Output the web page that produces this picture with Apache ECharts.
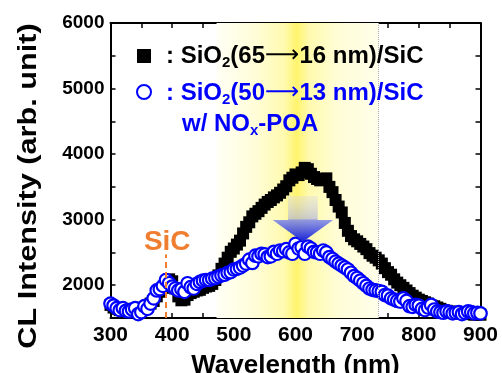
<!DOCTYPE html>
<html><head><meta charset="utf-8">
<script src="https://cdn.jsdelivr.net/npm/echarts@6/dist/echarts.min.js"></script>
<style>html,body{margin:0;padding:0;background:#fff}#c{width:502px;height:373px}</style>
</head><body><div id="c"></div>
<script>
const wavelength = [300,305,310,315,320,325,330,335,340,345,350,355,360,365,370,375,380,385,390,395,
400,405,410,415,420,425,430,435,440,445,450,455,460,465,470,475,480,485,490,495,
500,505,510,515,520,525,530,535,540,545,550,555,560,565,570,575,580,585,590,595,
600,605,610,615,620,625,630,635,640,645,650,655,660,665,670,675,680,685,690,695,
700,705,710,715,720,725,730,735,740,745,750,755,760,765,770,775,780,785,790,795,
800,805,810,815,820,825,830,835,840,845,850,855,860,865,870,875,880,885,890,895,900];
const clAsIs = [1700,1660,1640,1620,1630,1600,1610,1640,1620,1650,1630,1660,1680,1720,1760,1830,1900,1960,2030,2090,
2060,1950,1830,1770,1780,1850,1880,1900,1920,1930,1960,1980,1990,2020,2080,2150,2250,2330,2420,2510,
2560,2620,2680,2790,2890,2960,3050,3090,3130,3180,3230,3270,3300,3340,3370,3410,3460,3510,3600,3640,
3690,3680,3720,3790,3770,3700,3650,3620,3600,3610,3630,3500,3420,3300,3200,3110,2950,2830,2750,2700,
2670,2630,2590,2550,2490,2450,2420,2380,2330,2260,2200,2160,2090,2040,2000,1960,1920,1880,1840,1810,
1780,1760,1740,1720,1690,1680,1660,1640,1620,1610,1600,1590,1580,1580,1570,1570,1560,1560,1550,1560,1550];
const clNoxPoa = [1720,1690,1650,1620,1650,1610,1600,1630,1650,1560,1590,1680,1640,1720,1800,1920,1940,1990,2080,2030,
1980,1950,1920,1940,1900,2030,1970,1950,2020,2050,2070,2080,2080,2100,2110,2130,2150,2160,2190,2200,
2240,2250,2270,2300,2330,2390,2340,2450,2440,2480,2470,2430,2440,2510,2480,2530,2520,2550,2500,2480,
2630,2560,2580,2480,2590,2560,2510,2500,2480,2530,2500,2430,2400,2360,2330,2300,2270,2240,2190,2140,
2110,2070,2030,1990,1950,1930,1920,1910,1900,1850,1840,1800,1780,1760,1750,1800,1760,1680,1670,1700,
1690,1640,1620,1660,1700,1630,1600,1590,1580,1600,1590,1570,1580,1590,1560,1580,1600,1590,1570,1580,1570];
const xTicks = {min:300, max:900, step:100};
const yTicks = {min:1500, max:6000, step:500, labelStep:1000};
const bandRange = [472, 734];
const bandPeak = 602;
const sicLine = 389;
const sicLabel = [392, 2650];
const arrowShape = {shaftL:588, shaftR:636, headL:563, headR:661, tipX:612, shaftTop:3360, headTop:2995, tip:2662};

const chart = echarts.init(document.getElementById('c'), null, {renderer:'canvas'});
const FONT = 'Liberation Sans, Arial, Helvetica, sans-serif';
const black = wavelength.map((w,i)=>[w, clAsIs[i]]);
const blue = wavelength.map((w,i)=>[w, clNoxPoa[i]]);
const axisCommon = {
  type:'value', splitLine:{show:false},
  axisLine:{show:true, onZero:false, lineStyle:{color:'#000', width:2}},
  axisTick:{show:true, inside:true, length:5, lineStyle:{color:'#000', width:1.5}},
  minorTick:{show:false}
};
const pk = (bandPeak-bandRange[0])/(bandRange[1]-bandRange[0]);
chart.setOption({
  animation:false,
  backgroundColor:'#fff',
  grid:{left:110.5, right:21.5, top:23, bottom:55, containLabel:false, outerBoundsMode:'none'},
  xAxis:[
    Object.assign({}, axisCommon, {position:'bottom', min:xTicks.min, max:xTicks.max, interval:xTicks.step,
      minorTick:{show:true, splitNumber:2, length:5, lineStyle:{color:'#000', width:1.5}},
      axisLabel:{show:true, margin:7, color:'#000', fontFamily:FONT, fontWeight:'bold', fontSize:21},
      name:'Wavelength (nm)', nameLocation:'middle', nameGap:35,
      nameTextStyle:{color:'#000', fontFamily:FONT, fontWeight:'bold', fontSize:26}}),
    Object.assign({}, axisCommon, {position:'top', min:xTicks.min, max:xTicks.max, interval:xTicks.step,
      minorTick:{show:true, splitNumber:2, length:5, lineStyle:{color:'#000', width:1.5}},
      axisLabel:{show:false}})
  ],
  yAxis:[
    Object.assign({}, axisCommon, {position:'left', min:yTicks.min, max:yTicks.max, interval:yTicks.step,
      axisLabel:{show:true, margin:6, color:'#000', fontFamily:FONT, fontWeight:'bold', fontSize:19,
        formatter:v=> (v % yTicks.labelStep === 0 ? String(v) : '')}}),
    Object.assign({}, axisCommon, {position:'right', min:yTicks.min, max:yTicks.max, interval:yTicks.step,
      axisLabel:{show:false}})
  ],
  series:[
    {type:'line', data:[], z:1, silent:true,
      markArea:{silent:true, itemStyle:{color:{type:'linear', x:0, y:0, x2:1, y2:0, colorStops:[
        {offset:0, color:'#fffff6'}, {offset:pk*0.5, color:'#fffdd6'}, {offset:pk*0.85, color:'#fffaae'},
        {offset:pk, color:'#fff46c'}, {offset:pk+(1-pk)*0.15, color:'#fffaae'}, {offset:pk+(1-pk)*0.5, color:'#fffdd6'},
        {offset:1, color:'#fffeea'}]}},
        data:[[{xAxis:bandRange[0], yAxis:yTicks.min}, {xAxis:bandRange[1], yAxis:yTicks.max}]]},
      markLine:{silent:true, symbol:'none', label:{show:false},
        data:[
          [{coord:[bandRange[1], yTicks.min], lineStyle:{color:'#aaa', type:'dotted', width:1}}, {coord:[bandRange[1], yTicks.max]}],
          [{coord:[sicLine, yTicks.min], lineStyle:{color:'#f07e30', type:[6,4], width:2}}, {coord:[sicLine, 2470]}]
        ]}
    },
    {type:'scatter', name:'SiO2(65→16 nm)/SiC', data:black, symbol:'rect', symbolSize:12, z:3,
      itemStyle:{color:'#000', opacity:1}},
    {type:'scatter', name:'SiO2(50→13 nm)/SiC w/ NOx-POA', data:blue, symbol:'circle', symbolSize:12.5, z:4,
      itemStyle:{color:'#fff', borderColor:'#0000ff', borderWidth:2.2, opacity:1}}
  ]
});

const p = (x,y)=>chart.convertToPixel({xAxisIndex:0, yAxisIndex:0}, [x,y]);
const a = arrowShape;
const pts = [p(a.shaftL,a.shaftTop), p(a.shaftR,a.shaftTop), p(a.shaftR,a.headTop), p(a.headR,a.headTop),
  p(a.tipX,a.tip), p(a.headL,a.headTop), p(a.shaftL,a.headTop)];
const sic = p(sicLabel[0], sicLabel[1]);
const subRich = {sub:{fontSize:15, fontWeight:'bold', fontFamily:FONT, verticalAlign:'bottom', padding:[14,0,0,0]},
  arr:{fontSize:24, fontFamily:'DejaVu Sans', fontWeight:'normal'}};
chart.setOption({
  graphic:[
    {type:'polygon', z:5, shape:{points:pts}, style:{fill:{type:'linear', x:0, y:0, x2:0, y2:1, colorStops:[
      {offset:0, color:'rgba(215,215,235,0.35)'}, {offset:0.5, color:'rgba(165,170,225,0.6)'},
      {offset:0.52, color:'rgba(120,130,235,0.8)'}, {offset:1, color:'rgba(20,30,215,1)'}]}}},
    {type:'text', z:6, x:sic[0], y:sic[1], style:{text:'SiC', fill:'#f07e30', font:'bold 28px '+FONT, align:'center', verticalAlign:'middle'}},
    {type:'text', z:6, x:29, y:186, rotation:Math.PI/2, scaleX:1.18,
      style:{text:'CL Intensity (arb. unit)', fill:'#000', font:'bold 26px '+FONT, align:'center', verticalAlign:'middle'}},
    {type:'rect', z:6, shape:{x:137, y:49, width:14, height:14}, style:{fill:'#000'}},
    {type:'text', z:6, x:166, y:56, style:{text:': SiO{sub|2}(65{arr|⟶}16 nm)/SiC', rich:subRich, fill:'#000', font:'bold 24px '+FONT, verticalAlign:'middle'}},
    {type:'circle', z:6, shape:{cx:144, cy:92, r:7}, style:{fill:'#fff', stroke:'#0000ff', lineWidth:2}},
    {type:'text', z:6, x:166, y:93, style:{text:': SiO{sub|2}(50{arr|⟶}13 nm)/SiC', rich:subRich, fill:'#0000ff', font:'bold 24px '+FONT, verticalAlign:'middle'}},
    {type:'text', z:6, x:182, y:124, style:{text:'w/ NO{sub|x}-POA', rich:subRich, fill:'#0000ff', font:'bold 24px '+FONT, verticalAlign:'middle'}}
  ]
});
</script></body></html>
